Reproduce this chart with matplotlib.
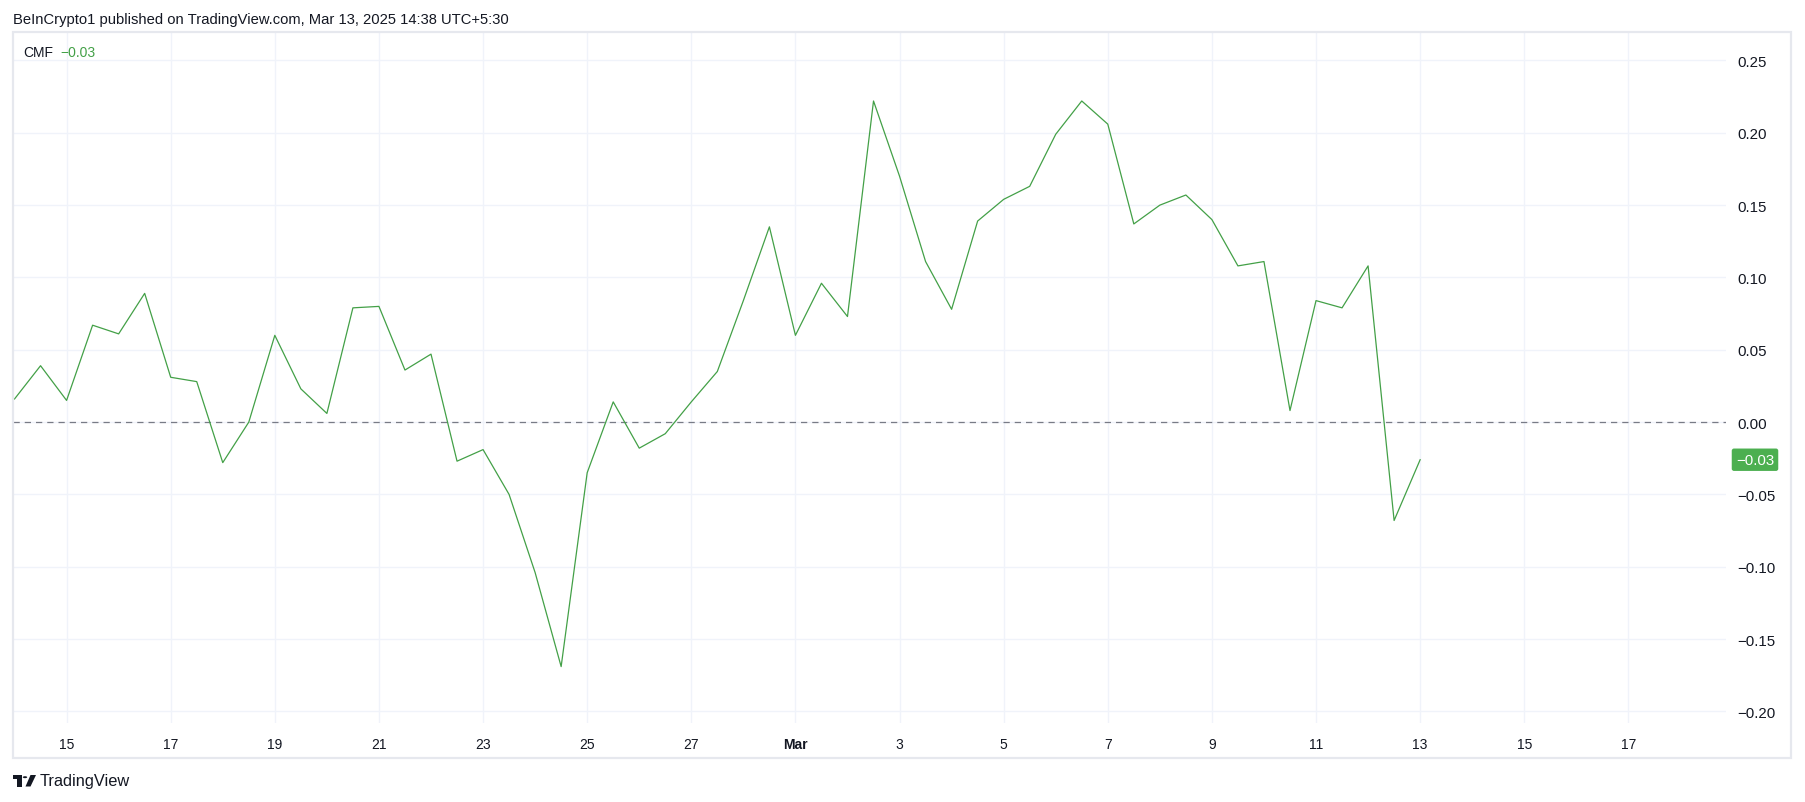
import datetime as dt

import matplotlib
matplotlib.use('Agg')
import matplotlib.pyplot as plt
import matplotlib.transforms as mtransforms
from matplotlib.patches import Rectangle, Polygon, Circle

W, H = 1805, 803

# CMF on 12h bars, starting Feb 14 2025 00:00
start = dt.datetime(2025, 2, 14)
cmf = [0.016, 0.039, 0.015, 0.067, 0.061, 0.089, 0.031, 0.028, -0.028, 0.000,
       0.060, 0.023, 0.006, 0.079, 0.080, 0.036, 0.047, -0.027, -0.019, -0.050,
       -0.104, -0.169, -0.035, 0.014, -0.018, -0.008, 0.014, 0.035, 0.084, 0.135,
       0.060, 0.096, 0.073, 0.222, 0.170, 0.111, 0.078, 0.139, 0.154, 0.163,
       0.199, 0.222, 0.206, 0.137, 0.150, 0.157, 0.140, 0.108, 0.111, 0.008,
       0.084, 0.079, 0.108, -0.068, -0.026]
times = [start + dt.timedelta(hours=12 * i) for i in range(len(cmf))]

tick_dates = [dt.datetime(2025, 2, d) for d in (15, 17, 19, 21, 23, 25, 27)] + \
             [dt.datetime(2025, 3, d) for d in (1, 3, 5, 7, 9, 11, 13, 15, 17)]
tick_labels = ['15', '17', '19', '21', '23', '25', '27', 'Mar',
               '3', '5', '7', '9', '11', '13', '15', '17']
y_ticks = [-0.20, -0.15, -0.10, -0.05, 0.00, 0.05, 0.10, 0.15, 0.20, 0.25]
last_label = '\u22120.03'

GREEN = '#43a047'
TEXT = '#131722'
FONT = 'Liberation Sans'
plt.rcParams['font.family'] = FONT


def fx(x):
    return x / W


def fy(y):
    return 1 - y / H


fig = plt.figure(figsize=(W / 100, H / 100), dpi=100)
fig.patch.set_facecolor('white')

ax_l, ax_r, ax_t, ax_b = 13, 1726, 34, 724
ax = fig.add_axes([fx(ax_l), fy(ax_b), fx(ax_r - ax_l), (ax_b - ax_t) / H])

ax.plot(times, cmf, color=GREEN, lw=0.9, zorder=3)
ax.axhline(0, color='#787b86', lw=0.9, ls=(0, (5, 4)), zorder=2)

ax.set_xlim(start - dt.timedelta(hours=0.7), dt.datetime(2025, 3, 18, 21))
ax.set_ylim(-0.208, 0.269)

ax.set_xticks(tick_dates)
ax.set_xticklabels(tick_labels)
for lab in ax.get_xticklabels():
    if lab.get_text() == 'Mar':
        lab.set_fontweight('bold')
ax.set_yticks(y_ticks)
ax.set_yticklabels(['{:.2f}'.format(v).replace('-', '\u2212') for v in y_ticks])
ax.yaxis.tick_right()

ax.grid(True, color='#f0f3fa', lw=1.0, zorder=0)
for s in ax.spines.values():
    s.set_visible(False)
ax.tick_params(axis='both', length=0, colors=TEXT)
ax.tick_params(axis='y', pad=8, labelsize=10.8)
ax.tick_params(axis='x', pad=10, labelsize=10)

# last value label on the price scale
trans = mtransforms.blended_transform_factory(ax.transAxes, ax.transData)
ax.text(1 + 29 / (ax_r - ax_l), cmf[-1], last_label, transform=trans,
        ha='center', va='center', color='white', fontsize=10.8,
        bbox=dict(boxstyle='round,pad=0.28,rounding_size=0.15', fc='#4caf50', ec='none'),
        clip_on=False, zorder=5)

# pane border
fig.add_artist(Rectangle((fx(13), fy(759)), fx(1791 - 13), (759 - 33) / H,
                         transform=fig.transFigure, fill=False,
                         ec='#e6e8ee', lw=1.6))

fig.text(fx(13), fy(20), 'BeInCrypto1 published on TradingView.com, Mar 13, 2025 14:38 UTC+5:30',
         ha='left', va='center', fontsize=10.6, color=TEXT)
fig.text(fx(23), fy(53), 'CMF', ha='left', va='center', fontsize=10, color=TEXT)
fig.text(fx(60), fy(53), last_label, ha='left', va='center', fontsize=10, color=GREEN)

# TradingView logo
logo_t = [(12.6, 776), (21.5, 776), (21.5, 787.5), (17.2, 787.5), (17.2, 780.3), (12.6, 780.3)]
fig.add_artist(Polygon([(fx(x), fy(y)) for x, y in logo_t], closed=True,
                       transform=fig.transFigure, fc=TEXT, ec='none'))
fig.add_artist(Circle((fx(25), fy(778.2)), 2.2 / W, transform=fig.transFigure,
                      fc=TEXT, ec='none'))
logo_v = [(30.5, 776), (36, 776), (30.5, 787.5), (25.5, 787.5)]
fig.add_artist(Polygon([(fx(x), fy(y)) for x, y in logo_v], closed=True,
                       transform=fig.transFigure, fc=TEXT, ec='none'))
fig.text(fx(40), fy(781.5), 'TradingView', ha='left', va='center', fontsize=11.8, color=TEXT)

fig.savefig('out.png', dpi=100)
